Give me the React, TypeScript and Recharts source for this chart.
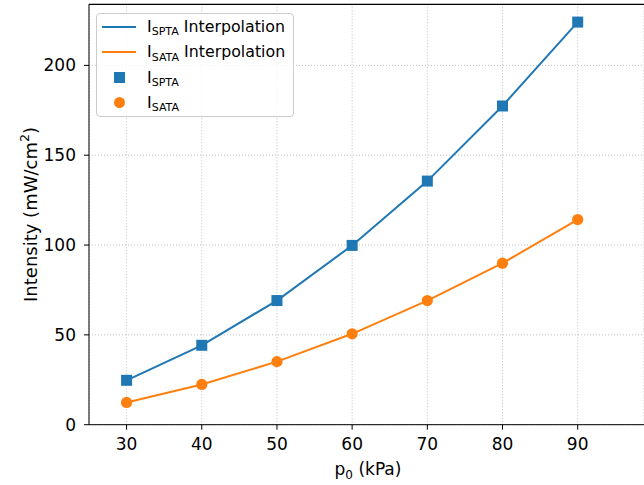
import {
  CartesianGrid,
  ComposedChart,
  Legend,
  Line,
  ReferenceLine,
  XAxis,
  YAxis,
} from 'recharts';

const pressures = [30, 40, 50, 60, 70, 80, 90];
const isptaValues = [24.7, 44.2, 69.1, 99.8, 135.6, 177.4, 224.1];
const isataValues = [12.4, 22.4, 35.1, 50.6, 69.1, 89.9, 114.2];
const xTicks = [30, 40, 50, 60, 70, 80, 90];
const yTicks = [0, 50, 100, 150, 200];

const BLUE = '#1f77b4';
const ORANGE = '#ff7f0e';
const FONT = '"DejaVu Sans", sans-serif';
const Y_MAX = 234;

const data = pressures.map((p, i) => ({
  p,
  spta: isptaValues[i],
  sata: isataValues[i],
}));

type DotProps = { cx?: number; cy?: number; index?: number };

const renderSquare = ({ cx, cy, index }: DotProps) => {
  if (cx == null || cy == null) return <g key={`sq-${index}`} />;
  return (
    <rect key={`sq-${index}`} x={cx - 5.5} y={cy - 5.5} width={11} height={11} fill={BLUE} />
  );
};

const renderCircle = ({ cx, cy, index }: DotProps) => {
  if (cx == null || cy == null) return <g key={`ci-${index}`} />;
  return <circle key={`ci-${index}`} cx={cx} cy={cy} r={5.6} fill={ORANGE} />;
};

const Sub = ({ children }: { children: string }) => (
  <span style={{ fontSize: '0.7em', position: 'relative', top: '0.3em' }}>{children}</span>
);

const legendRows = [
  { kind: 'line', color: BLUE, sub: 'SPTA', suffix: ' Interpolation' },
  { kind: 'line', color: ORANGE, sub: 'SATA', suffix: ' Interpolation' },
  { kind: 'square', color: BLUE, sub: 'SPTA', suffix: '' },
  { kind: 'circle', color: ORANGE, sub: 'SATA', suffix: '' },
];

const renderLegend = () => (
  <div
    style={{
      border: '1px solid #cccccc',
      borderRadius: 4,
      background: 'rgba(255,255,255,0.8)',
      padding: '0 0 1px 0',
      fontFamily: FONT,
      fontSize: 15.8,
      color: '#000',
      boxSizing: 'border-box',
      width: 198,
    }}
  >
    {legendRows.map((row, i) => (
      <div key={i} style={{ display: 'flex', alignItems: 'center', height: 25.3 }}>
        <div
          style={{
            width: 34,
            marginLeft: 5,
            marginRight: 11,
            display: 'flex',
            justifyContent: 'center',
          }}
        >
          {row.kind === 'line' && (
            <div style={{ width: 34, height: 2, background: row.color }} />
          )}
          {row.kind === 'square' && (
            <div style={{ width: 11, height: 11, background: row.color }} />
          )}
          {row.kind === 'circle' && (
            <div style={{ width: 11, height: 11, borderRadius: '50%', background: row.color }} />
          )}
        </div>
        <span style={{ whiteSpace: 'nowrap' }}>
          I<Sub>{row.sub}</Sub>
          {row.suffix}
        </span>
      </div>
    ))}
  </div>
);

const XLabel = (props: any) => {
  const vb = props.viewBox || {};
  const x = vb.x + vb.width / 2 + 1.5;
  return (
    <text x={x} y={474.5} textAnchor="middle" fontFamily={FONT} fontSize={17} fill="#000">
      p<tspan fontSize={12} dy={4}>0</tspan>
      <tspan dy={-4}> (kPa)</tspan>
    </text>
  );
};

const YLabel = (props: any) => {
  const vb = props.viewBox || {};
  const y = vb.y + vb.height / 2;
  return (
    <text
      x={0}
      y={0}
      transform={`translate(36.5, ${y}) rotate(-90)`}
      textAnchor="middle"
      fontFamily={FONT}
      fontSize={18}
      fill="#000"
    >
      Intensity (mW/cm<tspan fontSize={12.5} dy={-8}>2</tspan>
      <tspan dy={8}>)</tspan>
    </text>
  );
};

export default function App() {
  return (
    <div style={{ position: 'absolute', left: 0, top: 0, background: '#fff' }}>
      <ComposedChart
        width={644}
        height={485}
        data={data}
        margin={{ top: 4.3, right: 0, bottom: 0, left: 0 }}
      >
        <CartesianGrid stroke="#b0b0b0" strokeDasharray="1 2" strokeWidth={0.8} />
        <XAxis
          dataKey="p"
          type="number"
          domain={[25, 98.82]}
          ticks={xTicks}
          allowDataOverflow
          height={60.3}
          stroke="#000"
          tickSize={5}
          tickMargin={8}
          tick={{ fill: '#000', fontSize: 17, fontFamily: FONT }}
          label={<XLabel />}
        />
        <YAxis
          type="number"
          domain={[0, Y_MAX]}
          ticks={yTicks}
          allowDataOverflow
          width={89}
          stroke="#000"
          tickSize={5}
          tickMargin={8}
          tick={{ fill: '#000', fontSize: 17, fontFamily: FONT }}
          label={<YLabel />}
        />
        <ReferenceLine y={Y_MAX} stroke="#000" strokeWidth={1.2} />
        <Legend
          layout="vertical"
          align="center"
          verticalAlign="middle"
          content={renderLegend}
          wrapperStyle={{ left: 96, top: 13, width: 198 }}
        />
        <Line
          dataKey="spta"
          stroke={BLUE}
          strokeWidth={2}
          dot={renderSquare}
          activeDot={false}
          isAnimationActive={false}
        />
        <Line
          dataKey="sata"
          stroke={ORANGE}
          strokeWidth={2}
          dot={renderCircle}
          activeDot={false}
          isAnimationActive={false}
        />
      </ComposedChart>
    </div>
  );
}
